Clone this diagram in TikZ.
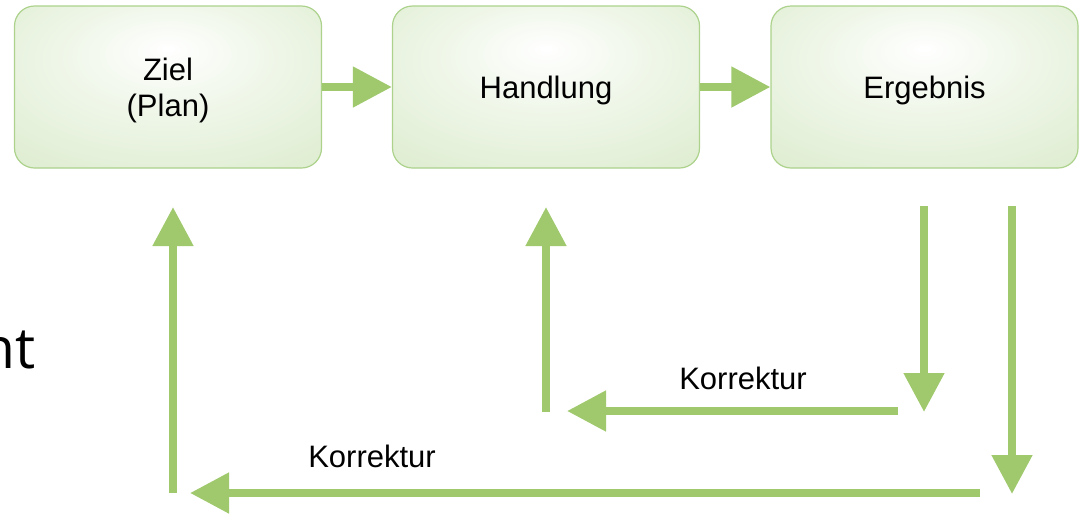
\documentclass[tikz,border=0pt]{standalone}
\usepackage{fontspec}
\setmainfont{Liberation Sans}
\newfontfamily\slidefont{Open Sans}
\usetikzlibrary{arrows.meta}

\definecolor{flowgreen}{RGB}{160,201,110}
\definecolor{boxrim}{RGB}{172,210,140}
\definecolor{glowmid}{RGB}{240,247,234}
\definecolor{glowedge}{RGB}{212,231,194}

% soft light spot slightly above the centre of each box
\pgfdeclareradialshading{boxglow}{\pgfpoint{0bp}{12bp}}{%
  color(0bp)=(white); color(16bp)=(glowmid); color(52bp)=(glowedge); color(70bp)=(glowedge)}

\tikzset{
  stepbox/.style={draw=boxrim, line width=1.2pt, rounded corners=20pt,
    shading=boxglow, minimum width=307pt, minimum height=162pt,
    align=center, font=\fontsize{31}{36}\selectfont, inner sep=0pt,
    text depth=0pt},
  flow/.style={draw=flowgreen, line width=8pt,
    -{Triangle[length=39pt 0,width=39pt 0]}},
  fblabel/.style={font=\fontsize{31}{36}\selectfont, inner sep=0pt}
}

\begin{document}
\begin{tikzpicture}[x=1pt,y=-1pt]
\useasboundingbox (0,0) rectangle (1083,515);

% process boxes
\node[stepbox] (ziel) at (168,87) {Ziel\\(Plan)};
\node[stepbox] (handlung) at (546,87) {Handlung};
\node[stepbox] (ergebnis) at (924.5,87) {Ergebnis};

\draw[flow] (ziel.east) -- (handlung.west);
\draw[flow] (handlung.east) -- (ergebnis.west);

% inner correction loop
\coordinate (a1) at (924,206);
\coordinate (a2) at (924,412);
\coordinate (b1) at (898,411);
\coordinate (b2) at (567,411);
\coordinate (c1) at (546,412);
\coordinate (c2) at (546,207);
\draw[flow] (a1) -- (a2);
\draw[flow] (b1) -- (b2);
\draw[flow] (c1) -- (c2);
\node[fblabel] (k1) at (743,378) {Korrektur};

% outer correction loop
\coordinate (d1) at (1012,206);
\coordinate (d2) at (1012,494);
\coordinate (e1) at (980,493);
\coordinate (e2) at (190,493);
\coordinate (f1) at (173,493);
\coordinate (f2) at (173,207);
\draw[flow] (d1) -- (d2);
\draw[flow] (e1) -- (e2);
\draw[flow] (f1) -- (f2);
\node[fblabel] (k2) at (372,456) {Korrektur};

% text running in from the left edge
\node[anchor=base east, inner sep=0pt, font=\slidefont\fontsize{57}{60}\selectfont] (cut) at (36,368) {nt};
\end{tikzpicture}
\end{document}
